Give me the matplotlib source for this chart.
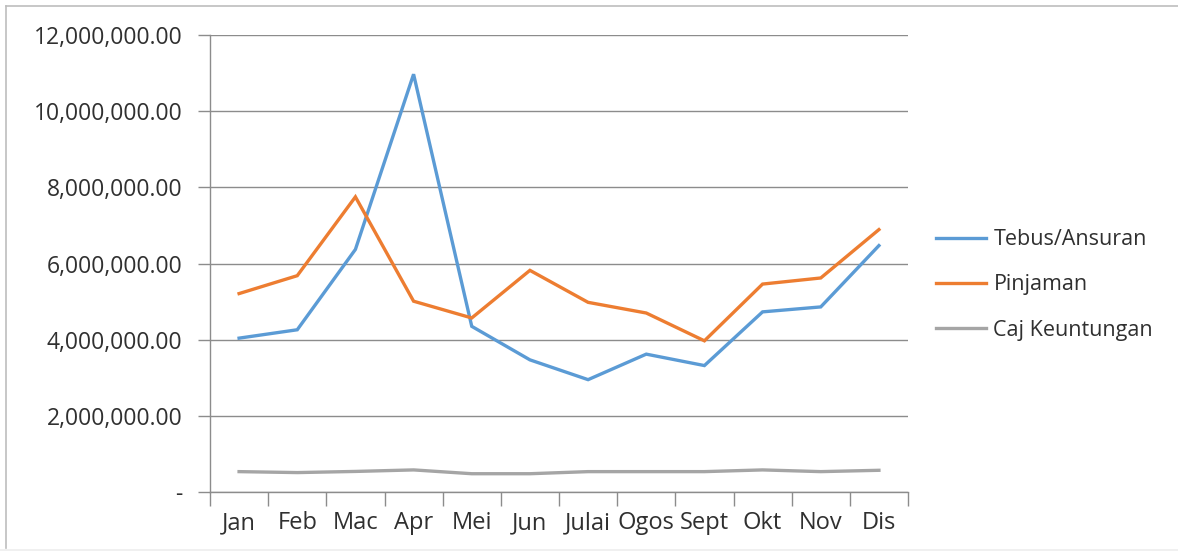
import matplotlib
matplotlib.use("Agg")
import matplotlib.pyplot as plt
from matplotlib.ticker import FuncFormatter, FixedLocator
from matplotlib.lines import Line2D

months = ["Jan", "Feb", "Mac", "Apr", "Mei", "Jun", "Julai", "Ogos", "Sept", "Okt", "Nov", "Dis"]
tebus = [4040000, 4260000, 6370000, 10970000, 4350000, 3470000, 2950000, 3620000, 3320000, 4730000, 4860000, 6470000]
pinjaman = [5210000, 5680000, 7750000, 5010000, 4570000, 5820000, 4980000, 4700000, 3970000, 5460000, 5620000, 6890000]
caj = [535000, 510000, 540000, 580000, 480000, 480000, 535000, 535000, 535000, 580000, 535000, 570000]
series_names = ["Tebus/Ansuran", "Pinjaman", "Caj Keuntungan"]
colors = ["#5B9BD5", "#ED7D31", "#A5A5A5"]

plt.rcParams['font.family'] = ['Open Sans', 'DejaVu Sans']

fig = plt.figure(figsize=(11.78, 5.54), dpi=100)
ax = fig.add_axes([210/1178, 1-492/554, 698/1178, 457/554])

x = list(range(len(months)))
for vals, c, n in zip([tebus, pinjaman, caj], colors, series_names):
    ax.plot(x, vals, color=c, lw=2.4, label=n, solid_joinstyle='miter')

ax.set_xlim(-0.5, len(months) - 0.5)
ax.set_ylim(0, 12000000)
ax.set_yticks(range(0, 12000001, 2000000))
ax.yaxis.set_major_formatter(FuncFormatter(lambda v, p: "-" if v == 0 else f"{v:,.2f}"))
ax.grid(axis='y', color='#8C8C8C', lw=1.0)
ax.set_axisbelow(True)

ax.set_xticks(x)
ax.set_xticklabels(months)
ax.xaxis.set_minor_locator(FixedLocator([i - 0.5 for i in range(len(months) + 1)]))
ax.tick_params(axis='x', which='major', length=0, pad=14, labelsize=17)
ax.tick_params(axis='x', which='minor', length=10, width=1, color='#8C8C8C')
ax.tick_params(axis='y', length=9, width=1, color='#8C8C8C', labelsize=16.5, pad=11)
for lbl in ax.get_xticklabels() + ax.get_yticklabels():
    lbl.set_color('#303030')

for s in ['top', 'right']:
    ax.spines[s].set_visible(False)
for s in ['left', 'bottom']:
    ax.spines[s].set_color('#8C8C8C')
    ax.spines[s].set_linewidth(1.0)

leg = fig.legend(loc='upper left', bbox_to_anchor=(917/1178, 1-210/554), frameon=False,
                 fontsize=15.5, handlelength=2.32, handletextpad=0.33, labelspacing=1.12,
                 labelcolor='#303030')

# figure border
fig.add_artist(Line2D([6/1178, 6/1178], [0.01, 1-6/554], transform=fig.transFigure, color='#BDBDBD', lw=1.2))
fig.add_artist(Line2D([6/1178, 1.0], [1-6/554, 1-6/554], transform=fig.transFigure, color='#BDBDBD', lw=1.2))
fig.add_artist(Line2D([0, 1.0], [4/554, 4/554], transform=fig.transFigure, color='#EEEEEE', lw=1.2))

fig.savefig("out.png", dpi=100)
